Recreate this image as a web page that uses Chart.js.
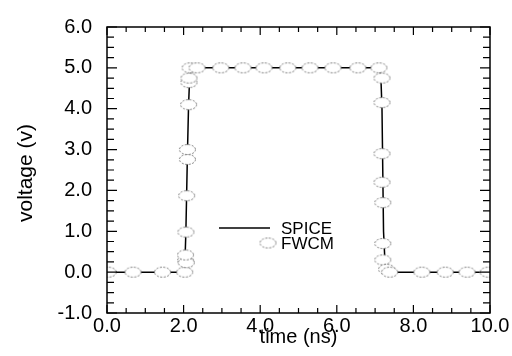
<!DOCTYPE html>
<html>
<head>
<meta charset="utf-8">
<script src="https://cdn.jsdelivr.net/npm/chart.js@4.4.1/dist/chart.umd.min.js"></script>
<style>
  html, body { margin: 0; padding: 0; background: #fff; }
  #wrap { width: 512px; height: 356px; position: relative; }
</style>
</head>
<body>
<div id="wrap"><canvas id="grafico"></canvas></div>
<script>
// dados (tempo em ns, tensão em V)
const spiceTime = [0, 2.0, 2.03, 2.06, 2.1, 2.13, 2.16, 2.22, 7.1, 7.15, 7.18, 7.2, 7.22, 7.26, 7.32, 7.4, 10];
const spiceVolt = [0, 0, 0.1, 1.0, 2.9, 4.1, 4.8, 5.0, 5.0, 4.8, 4.0, 2.5, 1.0, 0.2, 0.02, 0, 0];

const fwcmTime = [0.03, 0.68, 1.45, 2.03, 2.05, 2.07, 2.05, 2.06, 2.08, 2.1, 2.1, 2.13, 2.14, 2.14, 2.17,
                  2.35, 2.97, 3.55, 4.1, 4.72, 5.3, 5.9, 6.55, 7.1,
                  7.18, 7.18, 7.18, 7.18, 7.2, 7.2, 7.2, 7.3, 7.38, 8.22, 8.83, 9.4, 9.95];
const fwcmVolt = [0, 0, 0, 0, 0.28, 0.23, 0.42, 0.98, 1.87, 2.76, 3.0, 4.1, 4.64, 4.75, 5.0,
                  5.0, 5.0, 5.0, 5.0, 5.0, 5.0, 5.0, 5.0, 5.0,
                  4.75, 4.15, 2.9, 2.2, 1.7, 0.7, 0.3, 0.07, 0, 0, 0, 0, 0];

const seriesNames = ['SPICE', 'FWCM'];
const xTitle = 'time (ns)';
const yTitle = 'voltage (v)';

const fonte = '"Liberation Sans", Arial, Helvetica, sans-serif';

// marcador elíptico tracejado (como no gráfico original)
function makeEllipse() {
  const c = document.createElement('canvas');
  c.width = 19; c.height = 13;
  const g = c.getContext('2d');
  g.beginPath();
  g.ellipse(9.5, 6.5, 8, 5, 0, 0, Math.PI * 2);
  g.fillStyle = '#fff';
  g.fill();
  g.setLineDash([2, 1.5]);
  g.lineWidth = 1;
  g.strokeStyle = '#777';
  g.stroke();
  return c;
}
const ellipse = makeEllipse();

const toPts = (xs, ys) => xs.map((x, i) => ({ x: x, y: ys[i] }));

// moldura com ticks para dentro, títulos dos eixos e legenda
const framePlugin = {
  id: 'frame',
  afterDraw(chart) {
    const ctx = chart.ctx;
    const a = chart.chartArea;
    const xs = chart.scales.x, ys = chart.scales.y;
    ctx.save();
    ctx.strokeStyle = '#000';
    ctx.lineWidth = 1.5;
    ctx.strokeRect(a.left, a.top, a.right - a.left, a.bottom - a.top);
    ctx.lineWidth = 1.2;
    ctx.beginPath();
    for (let i = 0; i <= 20; i++) {
      const px = xs.getPixelForValue(i * 0.5);
      const len = (i % 4 === 0) ? 8 : 5;
      ctx.moveTo(px, a.bottom); ctx.lineTo(px, a.bottom - len);
      ctx.moveTo(px, a.top); ctx.lineTo(px, a.top + len);
    }
    for (let j = 0; j <= 28; j++) {
      const py = ys.getPixelForValue(-1 + j * 0.25);
      const len = (j % 4 === 0) ? 10 : 7;
      ctx.moveTo(a.left, py); ctx.lineTo(a.left + len, py);
      ctx.moveTo(a.right, py); ctx.lineTo(a.right - len, py);
    }
    ctx.stroke();

    // títulos
    ctx.fillStyle = '#000';
    ctx.textAlign = 'center';
    ctx.textBaseline = 'middle';
    ctx.font = '20px ' + fonte;
    ctx.fillText(xTitle, (a.left + a.right) / 2, 337);
    ctx.translate(26, 173);
    ctx.rotate(-Math.PI / 2);
    ctx.font = '21px ' + fonte;
    ctx.fillText(yTitle, 0, 0);
    ctx.restore();

    // legenda
    ctx.save();
    ctx.font = '17px ' + fonte;
    ctx.fillStyle = '#000';
    ctx.textBaseline = 'middle';
    ctx.strokeStyle = '#000';
    ctx.lineWidth = 1.3;
    ctx.beginPath();
    ctx.moveTo(219, 228); ctx.lineTo(270, 228);
    ctx.stroke();
    ctx.fillText(chart.data.datasets[0].label, 281, 229);
    ctx.drawImage(ellipse, 268 - 9.5, 243 - 6.5);
    ctx.fillText(chart.data.datasets[1].label, 281, 244);
    ctx.restore();
  }
};

const tickFont = { family: fonte, size: 20 };

new Chart(document.getElementById('grafico'), {
  type: 'scatter',
  data: {
    datasets: [
      {
        label: seriesNames[0],
        data: toPts(spiceTime, spiceVolt),
        showLine: true,
        borderColor: '#000',
        borderWidth: 1.5,
        pointRadius: 0,
        order: 2
      },
      {
        label: seriesNames[1],
        data: toPts(fwcmTime, fwcmVolt),
        showLine: false,
        pointStyle: ellipse,
        pointRadius: 6,
        order: 1
      }
    ]
  },
  options: {
    responsive: true,
    maintainAspectRatio: false,
    animation: false,
    layout: { padding: { top: 15, right: 22, left: 0, bottom: 0 } },
    plugins: { legend: { display: false }, tooltip: { enabled: false } },
    scales: {
      x: {
        type: 'linear', min: 0, max: 10,
        ticks: { stepSize: 2, color: '#000', font: tickFont, padding: 1, maxRotation: 0,
                 callback: v => v.toFixed(1) },
        grid: { display: false, drawTicks: false },
        border: { display: false },
        afterFit: s => { s.height = 43; }
      },
      y: {
        type: 'linear', min: -1, max: 6,
        ticks: { stepSize: 1, color: '#000', font: tickFont, padding: 15,
                 callback: v => v.toFixed(1) },
        grid: { display: false, drawTicks: false },
        border: { display: false },
        afterFit: s => { s.width = 107; }
      }
    }
  },
  plugins: [framePlugin]
});
</script>
</body>
</html>
